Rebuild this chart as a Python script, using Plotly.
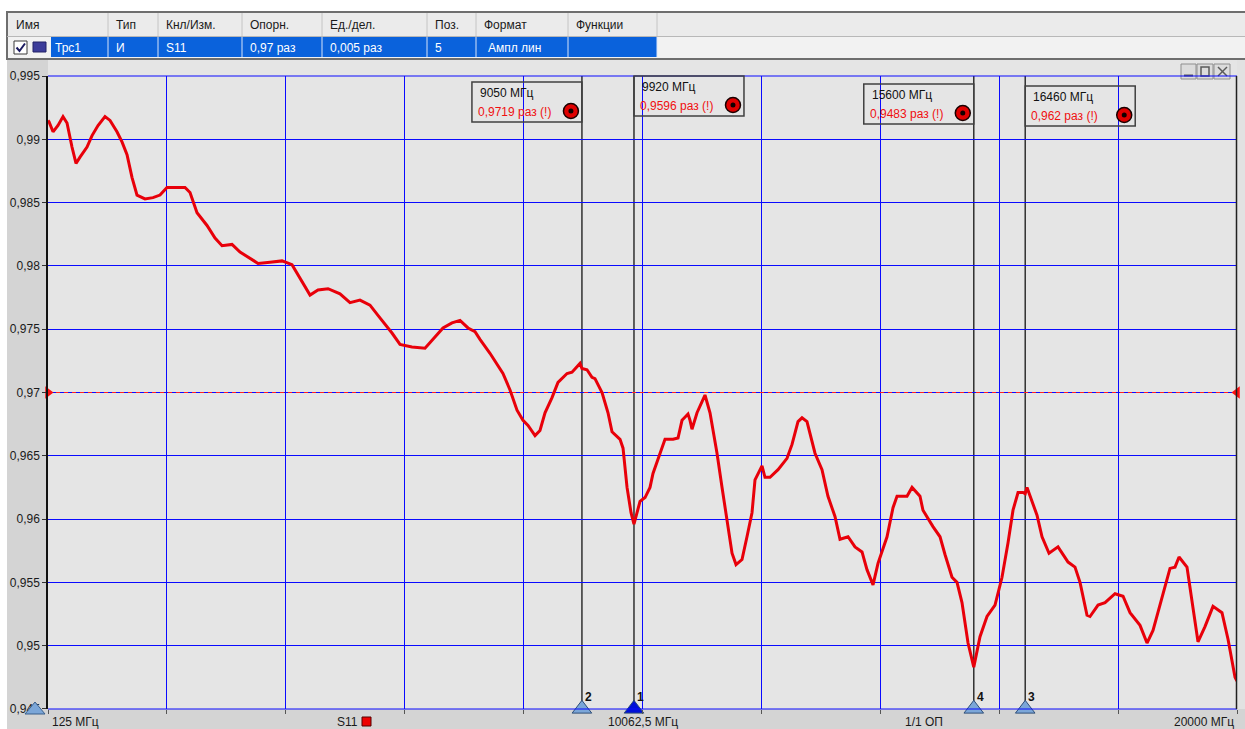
import plotly.graph_objects as go

# ---------------- data ----------------
freq_mhz = [
    125, 142, 209, 292, 376, 443, 526, 593, 660, 777,
    861, 961, 1078, 1162, 1278, 1362, 1446, 1529, 1613, 1746,
    1880, 1997, 2114, 2198, 2298, 2415, 2499, 2616, 2783, 2917,
    3034, 3201, 3335, 3502, 3636, 3836, 4037, 4204, 4337, 4505,
    4638, 4806, 5006, 5173, 5340, 5507, 5674, 5875, 6009, 6209,
    6427, 6561, 6728, 6878, 7012, 7146, 7263, 7346, 7513, 7730,
    7848, 7965, 8065, 8149, 8266, 8349, 8433, 8550, 8650, 8801,
    8884, 9018, 9050, 9135, 9218, 9268, 9386, 9486, 9553, 9687,
    9737, 9804, 9871, 9920, 9971, 10021, 10105, 10188, 10238, 10355,
    10439, 10573, 10656, 10723, 10823, 10857, 10890, 10974, 11107, 11191,
    11308, 11392, 11475, 11559, 11626, 11726, 11809, 11893, 11943, 12060,
    12110, 12194, 12328, 12478, 12562, 12662, 12729, 12812, 12946, 13063,
    13163, 13280, 13364, 13498, 13615, 13732, 13815, 13916, 13999, 14150,
    14250, 14317, 14484, 14568, 14701, 14751, 14918, 15036, 15119, 15236,
    15320, 15403, 15504, 15600, 15704, 15821, 15955, 16072, 16172, 16256,
    16340, 16423, 16460, 16490, 16657, 16741, 16858, 17008, 17176, 17292,
    17376, 17493, 17543, 17677, 17794, 17961, 18095, 18212, 18379, 18496,
    18596, 18763, 18880, 18964, 19031, 19164, 19248, 19348, 19465, 19599,
    19749, 19850, 19967, 20000,
]
s11_mag = [
    0.9915, 0.9914, 0.9906, 0.9911, 0.9918, 0.9913, 0.9894, 0.9881, 0.9886, 0.9894,
    0.9903, 0.9911, 0.9918, 0.9915, 0.9906, 0.9898, 0.9888, 0.9870, 0.9856, 0.9853,
    0.9854, 0.9856, 0.9862, 0.9862, 0.9862, 0.9862, 0.9858, 0.9842, 0.9832, 0.9822,
    0.9816, 0.9817, 0.9811, 0.9806, 0.9802, 0.9803, 0.9804, 0.9801, 0.9790, 0.9777,
    0.9781, 0.9782, 0.9778, 0.9771, 0.9773, 0.9769, 0.9759, 0.9747, 0.9738, 0.9736,
    0.9735, 0.9742, 0.9751, 0.9755, 0.9757, 0.9751, 0.9748, 0.9742, 0.9731, 0.9715,
    0.9702, 0.9686, 0.9678, 0.9674, 0.9666, 0.9670, 0.9684, 0.9696, 0.9708, 0.9715,
    0.9716, 0.9723, 0.9719, 0.9718, 0.9712, 0.9711, 0.9700, 0.9684, 0.9669, 0.9663,
    0.9656, 0.9625, 0.9605, 0.9596, 0.9605, 0.9614, 0.9617, 0.9625, 0.9636, 0.9652,
    0.9663, 0.9663, 0.9664, 0.9678, 0.9683, 0.9678, 0.9671, 0.9684, 0.9698, 0.9684,
    0.9652, 0.9625, 0.9599, 0.9573, 0.9564, 0.9568, 0.9586, 0.9605, 0.9631, 0.9642,
    0.9633, 0.9633, 0.9639, 0.9648, 0.9659, 0.9677, 0.9680, 0.9677, 0.9652, 0.9639,
    0.9618, 0.9602, 0.9584, 0.9586, 0.9578, 0.9574, 0.9560, 0.9548, 0.9565, 0.9586,
    0.9609, 0.9618, 0.9618, 0.9625, 0.9618, 0.9607, 0.9594, 0.9586, 0.9572, 0.9554,
    0.9550, 0.9534, 0.9502, 0.9483, 0.9507, 0.9523, 0.9532, 0.9554, 0.9581, 0.9607,
    0.9621, 0.9621, 0.9620, 0.9625, 0.9603, 0.9586, 0.9573, 0.9578, 0.9566, 0.9562,
    0.9550, 0.9524, 0.9523, 0.9532, 0.9534, 0.9541, 0.9539, 0.9526, 0.9516, 0.9502,
    0.9512, 0.9542, 0.9561, 0.9562, 0.9570, 0.9562, 0.9536, 0.9503, 0.9515, 0.9531,
    0.9526, 0.9505, 0.9475, 0.9472,
]

start_mhz = 125
stop_mhz = 20000
ref_level = 0.97
scale_per_div = 0.005
ref_pos = 5
y_tick_vals = [0.945, 0.95, 0.955, 0.96, 0.965, 0.97, 0.975, 0.98, 0.985, 0.99, 0.995]
y_tick_text = ["0,945", "0,95", "0,955", "0,96", "0,965", "0,97", "0,975", "0,98", "0,985", "0,99", "0,995"]

marker_ids = [1, 2, 3, 4]
marker_freqs = [9920, 9050, 16460, 15600]
marker_vals = [0.9596, 0.9719, 0.962, 0.9483]

table_headers = ["Имя", "Тип", "Кнл/Изм.", "Опорн.", "Ед./дел.", "Поз.", "Формат", "Функции"]
table_row = ["Трс1", "И", "S11", "0,97 раз", "0,005 раз", "5", "Ампл лин", ""]
center_label = "10062,5 МГц"
status_label = "1/1 ОП"
trace_name = "S11"

# ---------------- layout geometry (pixels) ----------------
W, H = 1245, 729
L, R, T, B = 48, 8, 76, 20
PW, PH = W - L - R, H - T - B
FONT = "Liberation Sans, Arial, sans-serif"


def px(x):
    return (x - L) / PW


def py(y):
    return (H - B - y) / PH


shapes = []
annotations = []


def rect(x0, y0, x1, y1, fill=None, line=None, lw=1, layer="below"):
    shapes.append(dict(type="rect", xref="paper", yref="paper",
                       x0=px(x0), x1=px(x1), y0=py(y1), y1=py(y0),
                       fillcolor=fill if fill else "rgba(0,0,0,0)",
                       line=dict(color=line if line else "rgba(0,0,0,0)", width=lw if line else 0),
                       layer=layer))


def pline(x0, y0, x1, y1, color, lw=1, layer="above", dash=None):
    d = dict(color=color, width=lw)
    if dash:
        d["dash"] = dash
    shapes.append(dict(type="line", xref="paper", yref="paper",
                       x0=px(x0), x1=px(x1), y0=py(y0), y1=py(y1), line=d, layer=layer))


def text(x, y, s, size=12, color="#1a1a1a", anchor="left", bold=False, family=FONT):
    if bold:
        s = "<b>" + s + "</b>"
    annotations.append(dict(xref="paper", yref="paper", x=px(x), y=py(y), text=s,
                            showarrow=False, xanchor=anchor, yanchor="middle",
                            font=dict(size=size, color=color, family=family)))


# backgrounds outside plot
rect(0, 0, W, 12, fill="white")
rect(0, 0, 7, H, fill="white")
rect(L, 60, W - R, T, fill="#e5e5e5")
rect(W - R, 60, W, H - B, fill="#e2e2e2")

# table
cols = [8, 108, 158, 242, 322, 427, 476, 568, 657]
rect(7, 12, W, 36, fill="#ebebeb")
rect(7, 36, W, 58, fill="#f2f2f2")
rect(51, 37, 657, 57, fill="#0a62dc")
rect(7, 12, W + 2, 59, line="#6e6e6e", lw=2)
pline(7, 36.5, W, 36.5, "#b8b8b8", 1)
for c in cols[1:]:
    pline(c, 13, c, 36, "#c4c4c4", 1)
    pline(c, 37, c, 57, "#d7e4fa", 1)
for i, h in enumerate(table_headers):
    text(cols[i] + 6, 25.5, h, size=12, color="#1a1a1a")
for i, v in enumerate(table_row):
    if v:
        xoff = cols[i] + 6 if i > 0 else 53
        if i == 6:
            xoff += 4
        text(xoff, 47.5, v, size=12, color="white")
# checkbox + icon
rect(14, 41, 27, 54, fill="white", line="#3a3a3a", lw=1)
shapes.append(dict(type="path", xref="paper", yref="paper",
                   path=f"M {px(16.5)},{py(47.5)} L {px(19.5)},{py(51)} L {px(25)},{py(43.5)}",
                   line=dict(color="#1a1a60", width=2), layer="above"))
rect(33, 42, 46, 52, fill="#3c3c9a", line="#222266", lw=1)

# window buttons
for bx0, bx1 in [(1181, 1196), (1197, 1213), (1214, 1230)]:
    rect(bx0, 64, bx1, 79, fill="#dcdcdc", line="#8e8e8e", lw=1, layer="above")
pline(1184, 75.5, 1193, 75.5, "#5a5a5a", 2)
rect(1201, 67, 1209, 76, line="#5a5a5a", lw=1.5, layer="above")
pline(1218, 67, 1227, 76, "#5a5a5a", 1.5)
pline(1218, 76, 1227, 67, "#5a5a5a", 1.5)

# plot frame
pline(L, T, W - R, T, "#0a0aff", 1.2)
pline(L, H - B, W - R, H - B, "#0a0aff", 1.2)
pline(W - R - 0.5, T, W - R - 0.5, H - B, "#202020", 1.5)

# reference level dashed line
shapes.append(dict(type="line", xref="x", yref="y", x0=start_mhz, x1=stop_mhz,
                   y0=ref_level, y1=ref_level, layer="between",
                   line=dict(color="#ff2020", width=1.2, dash="4px,4px")))

# marker vertical lines, readout boxes
box_side = {1: "right", 2: "left", 3: "right", 4: "left"}
box_top = {1: 76, 2: 82, 3: 86, 4: 84}
BW, BH = 110, 40
for mid, mf, mv in zip(marker_ids, marker_freqs, marker_vals):
    shapes.append(dict(type="line", xref="x", yref="paper", x0=mf, x1=mf, y0=0, y1=1,
                       layer="between", line=dict(color="#303030", width=1.5)))
    top = box_top[mid]
    if box_side[mid] == "left":
        bx0, bx1, icx = -BW, 0, -11
    else:
        bx0, bx1, icx = 0, BW, 99
    shapes.append(dict(type="rect", xref="x", xsizemode="pixel", xanchor=mf,
                       x0=bx0, x1=bx1, yref="paper", y0=py(top + BH), y1=py(top),
                       line=dict(color="#404040", width=1.5), fillcolor="rgba(0,0,0,0)",
                       layer="above"))
    cy = top + 29
    shapes.append(dict(type="circle", xref="x", xsizemode="pixel", xanchor=mf,
                       x0=icx - 7.5, x1=icx + 7.5, yref="paper", y0=py(cy + 7.5), y1=py(cy - 7.5),
                       fillcolor="#e00000", line=dict(color="#1a0000", width=1.5), layer="above"))
    shapes.append(dict(type="circle", xref="x", xsizemode="pixel", xanchor=mf,
                       x0=icx - 2.5, x1=icx + 2.5, yref="paper", y0=py(cy + 2.5), y1=py(cy - 2.5),
                       fillcolor="#100000", line=dict(color="#100000", width=0), layer="above"))
    xs = bx0 + 6
    annotations.append(dict(xref="x", x=mf, xshift=xs, yref="paper", y=py(top + 11),
                            xanchor="left", yanchor="middle", showarrow=False,
                            text=f"{mf} МГц", font=dict(size=12, color="#111111", family=FONT)))
    vs = f"{mv:g}".replace(".", ",")
    annotations.append(dict(xref="x", x=mf, xshift=xs - 2, yref="paper", y=py(top + 30),
                            xanchor="left", yanchor="middle", showarrow=False,
                            text=f"{vs} раз (!)", font=dict(size=12, color="#f01010", family=FONT)))
    annotations.append(dict(xref="x", x=mf, xshift=1, yref="paper", y=py(696.5),
                            xanchor="left", yanchor="middle", showarrow=False,
                            text=f"<b>{mid}</b>", font=dict(size=12, color="#111111", family=FONT)))

# start indicator triangle (bottom-left)
shapes.append(dict(type="path", xref="paper", yref="paper",
                   path=f"M {px(25)},{py(714)} L {px(45)},{py(714)} L {px(35)},{py(702)} Z",
                   fillcolor="#7ba6d8", line=dict(color="#3b5f8a", width=1), layer="above"))

# bottom labels
text(50, 722, f"{start_mhz} МГц", size=12)
text(335, 722, trace_name, size=12)
rect(362, 717, 371, 726, fill="#ee0000", line="#550000", lw=1, layer="above")
text(643, 722, center_label, size=12, anchor="center")
text(924, 722, status_label, size=12, anchor="center")
text(1236, 722, f"{stop_mhz} МГц", size=12, anchor="right")

# ---------------- figure ----------------
fig = go.Figure()
fig.add_trace(go.Scatter(x=freq_mhz, y=s11_mag, mode="lines",
                         line=dict(color="#e8000a", width=3), hoverinfo="skip"))
# reference level triangles
fig.add_trace(go.Scatter(x=[start_mhz, stop_mhz], y=[ref_level, ref_level], mode="markers",
                         marker=dict(symbol=["triangle-right", "triangle-left"], size=11,
                                     color="#ff1010", line=dict(width=0)),
                         cliponaxis=False, hoverinfo="skip"))
# marker triangles
mcolors = ["#0010d8" if m == 1 else "#7ba6d8" for m in marker_ids]
fig.add_trace(go.Scatter(x=marker_freqs, y=[y_tick_vals[0]] * len(marker_freqs), mode="markers",
                         marker=dict(symbol="triangle-up", size=17, color=mcolors,
                                     line=dict(color="#2f4f7a", width=1)),
                         cliponaxis=False, hoverinfo="skip"))

fig.update_layout(
    width=W, height=H,
    margin=dict(l=L, r=R, t=T, b=B, pad=0),
    paper_bgcolor="#d4d4d4",
    plot_bgcolor="#e5e5e5",
    showlegend=False,
    font=dict(family=FONT, size=12, color="#1a1a1a"),
    shapes=shapes,
    annotations=annotations,
    xaxis=dict(range=[start_mhz, stop_mhz], tick0=start_mhz, dtick=(stop_mhz - start_mhz) / 10,
               showgrid=True, gridcolor="#0a0aff", gridwidth=1, zeroline=False,
               showticklabels=False, ticks="outside", ticklen=4, tickcolor="#555555",
               showline=False, fixedrange=True),
    yaxis=dict(range=[0.94499, 0.99501], tickvals=y_tick_vals, ticktext=y_tick_text,
               showgrid=True, gridcolor="#0a0aff", gridwidth=1, zeroline=False,
               ticks="outside", ticklen=4, tickcolor="#333333",
               tickfont=dict(size=12, color="#1a1a1a", family=FONT),
               showline=True, linecolor="#111111", linewidth=1.5, fixedrange=True),
)

fig.write_html("out.html", config={"displayModeBar": False},
               post_script="document.body.style.margin='0';document.body.style.overflow='hidden';")
